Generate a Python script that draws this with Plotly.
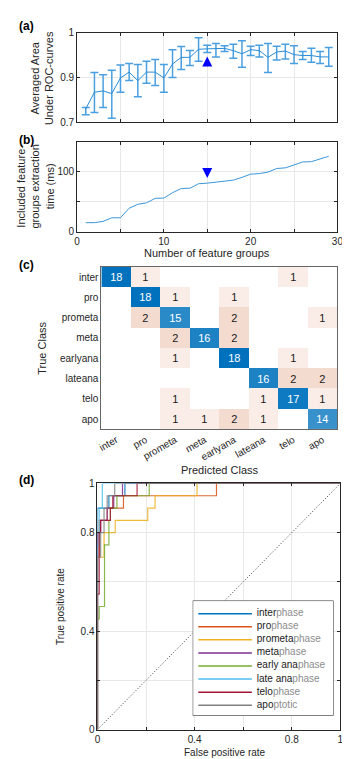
import numpy as np
import plotly.graph_objects as go

# ---------------- data ----------------
n_groups = list(range(1, 30))
auc_mean = [0.830, 0.867, 0.870, 0.864, 0.899, 0.912, 0.893, 0.912, 0.912, 0.899,
            0.930, 0.945, 0.945, 0.963, 0.964, 0.964, 0.965, 0.960, 0.953, 0.962,
            0.960, 0.945, 0.957, 0.959, 0.951, 0.949, 0.949, 0.946, 0.946]
auc_upper = [0.833, 0.911, 0.906, 0.916, 0.928, 0.931, 0.929, 0.936, 0.940, 0.929,
             0.962, 0.969, 0.960, 0.989, 0.972, 0.976, 0.971, 0.974, 0.982, 0.970,
             0.972, 0.976, 0.970, 0.974, 0.971, 0.958, 0.965, 0.958, 0.967]
auc_lower = [0.817, 0.822, 0.833, 0.809, 0.867, 0.893, 0.857, 0.887, 0.882, 0.867,
             0.900, 0.918, 0.927, 0.936, 0.956, 0.946, 0.958, 0.943, 0.923, 0.949,
             0.946, 0.911, 0.939, 0.941, 0.931, 0.940, 0.934, 0.931, 0.925]
time_ms = [14.8, 14.8, 17, 23, 23, 39, 45.6, 48, 55.5, 56,
           65, 72, 72.5, 80, 81, 82.4, 84, 86, 90.7, 96,
           97, 99.5, 105.5, 106.6, 111.5, 116.5, 117, 122, 126]
chosen_n = 15
auc_arrow_y = 0.947
time_arrow_y = 89.6

classes = ["inter", "pro", "prometa", "meta", "earlyana", "lateana", "telo", "apo"]
conf = [
    [18, 1, 0, 0, 0, 0, 1, 0],
    [0, 18, 1, 0, 1, 0, 0, 0],
    [0, 2, 15, 0, 2, 0, 0, 1],
    [0, 0, 2, 16, 2, 0, 0, 0],
    [0, 0, 1, 0, 18, 0, 1, 0],
    [0, 0, 0, 0, 0, 16, 2, 2],
    [0, 0, 1, 0, 0, 1, 17, 1],
    [0, 0, 1, 1, 2, 1, 0, 14],
]

roc_prefix = ["inter", "pro", "prometa", "meta", "early ana", "late ana", "telo", "apo"]
roc_suffix = ["phase", "phase", "phase", "phase", "phase", "phase", "phase", "ptotic"]
roc_colors = ["#0072BD", "#D95319", "#EDB120", "#7E2F8E", "#77AC30", "#4DBEEE", "#A2142F", "#808080"]
roc_fpr = [
    [0, 0, 0.047, 0.047, 0.113, 0.113, 1],
    [0, 0, 0.007, 0.007, 0.04, 0.04, 0.107, 0.107, 0.49, 0.49, 1],
    [0, 0, 0.027, 0.027, 0.073, 0.073, 0.207, 0.207, 0.237, 0.237, 0.41, 0.41, 1],
    [0, 0, 0.013, 0.013, 0.04, 0.04, 0.067, 0.067, 0.103, 0.103, 1],
    [0, 0, 0.007, 0.007, 0.029, 0.029, 0.047, 0.047, 0.053, 0.053, 0.08, 0.08, 0.213, 0.213, 1],
    [0, 0, 0.007, 0.007, 0.02, 0.02, 1],
    [0, 0, 0.007, 0.007, 0.013, 0.013, 0.053, 0.053, 0.063, 0.063, 0.163, 0.163, 1],
    [0, 0, 0.013, 0.013, 0.027, 0.027, 0.04, 0.04, 0.071, 0.071, 1],
]
roc_tpr = [
    [0, 0.9, 0.9, 0.95, 0.95, 1, 1],
    [0, 0.7, 0.7, 0.85, 0.85, 0.9, 0.9, 0.95, 0.95, 1, 1],
    [0, 0.7, 0.7, 0.8, 0.8, 0.85, 0.85, 0.9, 0.9, 0.95, 0.95, 1, 1],
    [0, 0.8, 0.8, 0.85, 0.85, 0.9, 0.9, 0.95, 0.95, 1, 1],
    [0, 0.45, 0.45, 0.5, 0.5, 0.75, 0.75, 0.85, 0.85, 0.9, 0.9, 0.95, 0.95, 1, 1],
    [0, 0.75, 0.75, 0.9, 0.9, 1, 1],
    [0, 0.55, 0.55, 0.8, 0.8, 0.85, 0.85, 0.9, 0.9, 0.95, 0.95, 1, 1],
    [0, 0.7, 0.7, 0.8, 0.8, 0.9, 0.9, 0.95, 0.95, 1, 1],
]
chance = [0, 1]

# ---------------- style ----------------
FONT = "Liberation Sans, Arial, sans-serif"
INK = "#262626"
GRID = "#e8e8e8"
W, H = 350, 759


def px_x(x):
    return x / W


def px_y(y):
    return 1 - y / H


fig = go.Figure()

# --- (a) averaged AUC with error bars ---
mean = np.array(auc_mean)
fig.add_trace(go.Scatter(
    x=n_groups, y=auc_mean, mode="lines",
    line=dict(color="#2b8cd6", width=1),
    error_y=dict(type="data", symmetric=False,
                 array=np.array(auc_upper) - mean,
                 arrayminus=mean - np.array(auc_lower),
                 color="#4a9fe0", thickness=1.5, width=4),
    xaxis="x", yaxis="y", showlegend=False, hoverinfo="skip"))
fig.add_trace(go.Scatter(
    x=[chosen_n], y=[auc_arrow_y], mode="markers",
    marker=dict(symbol="arrow-up", size=10, color="#0000ff"),
    xaxis="x", yaxis="y", showlegend=False, hoverinfo="skip"))

# --- (b) extraction time ---
fig.add_trace(go.Scatter(
    x=n_groups, y=time_ms, mode="lines",
    line=dict(color="#3a96db", width=1),
    xaxis="x2", yaxis="y2", showlegend=False, hoverinfo="skip"))
fig.add_trace(go.Scatter(
    x=[chosen_n], y=[time_arrow_y], mode="markers",
    marker=dict(symbol="arrow-down", size=10, color="#0000ff"),
    xaxis="x2", yaxis="y2", showlegend=False, hoverinfo="skip"))

# --- (c) confusion matrix ---
cm = np.array(conf, dtype=float)
diag_mask = np.eye(len(classes), dtype=bool)
z_diag = np.where(diag_mask, cm, np.nan)
z_off = np.where(~diag_mask & (cm > 0), cm, np.nan)
txt_diag = [[str(int(v)) if not np.isnan(v) else "" for v in row] for row in z_diag]
txt_off = [[str(int(v)) if not np.isnan(v) else "" for v in row] for row in z_off]

fig.add_trace(go.Heatmap(
    z=z_off, x=classes, y=classes, zmin=0, zmax=2,
    colorscale=[[0, "#ffffff"], [1, "#f4dbcf"]], showscale=False,
    text=txt_off, texttemplate="%{text}", textfont=dict(size=11, color="#1a1a1a", family=FONT),
    xaxis="x3", yaxis="y3", hoverinfo="skip"))
fig.add_trace(go.Heatmap(
    z=z_diag, x=classes, y=classes, zmin=0, zmax=18,
    colorscale=[[0, "#ffffff"], [1, "#0072BD"]], showscale=False,
    text=txt_diag, texttemplate="%{text}", textfont=dict(size=11, color="white", family=FONT),
    xaxis="x3", yaxis="y3", hoverinfo="skip"))

# --- (d) ROC curves ---
fig.add_trace(go.Scatter(
    x=chance, y=chance, mode="lines",
    line=dict(color="#333333", width=1, dash="1px,2px"),
    xaxis="x4", yaxis="y4", showlegend=False, hoverinfo="skip"))
for fpr, tpr, col in zip(roc_fpr, roc_tpr, roc_colors):
    fig.add_trace(go.Scatter(
        x=fpr, y=tpr, mode="lines", opacity=0.85,
        line=dict(color=col, width=1.2),
        xaxis="x4", yaxis="y4", showlegend=False, hoverinfo="skip"))

# custom legend box drawn in its own small axes
idx = list(range(len(roc_prefix)))
for i, col in zip(idx, roc_colors):
    fig.add_trace(go.Scatter(
        x=[0.04, 0.42], y=[i, i], mode="lines",
        line=dict(color=col, width=1.5),
        xaxis="x5", yaxis="y5", showlegend=False, hoverinfo="skip"))
fig.add_trace(go.Scatter(
    x=[0.455] * len(idx), y=idx, mode="text",
    text=[f"{p}<span style='color:#8c8c8c'>{s}</span>" for p, s in zip(roc_prefix, roc_suffix)],
    textposition="middle right",
    textfont=dict(size=10, color="#1a1a1a", family=FONT),
    xaxis="x5", yaxis="y5", showlegend=False, hoverinfo="skip"))

# ---------------- axes ----------------
common = dict(showline=True, linecolor=INK, linewidth=1, mirror="allticks",
              ticks="inside", ticklen=3, tickcolor=INK, gridcolor=GRID,
              zeroline=False, tickfont=dict(size=10, color=INK, family=FONT))

xa = [67, 335]
fig.update_layout(
    xaxis=dict(domain=[px_x(xa[0]), px_x(xa[1])], range=[0, 30], anchor="y",
               tickvals=list(range(0, 31, 5)), showticklabels=False, showgrid=True, **common),
    yaxis=dict(domain=[px_y(110), px_y(19)], range=[0.8, 1.0], anchor="x",
               tickvals=[0.8, 0.9, 1.0], ticktext=["0.7", "0.9", "1"], **common),
    xaxis2=dict(domain=[px_x(xa[0]), px_x(xa[1])], range=[0, 30], anchor="y2",
                tickvals=list(range(0, 31, 5)), ticktext=["0", "", "10", "", "20", "", "30"], **common),
    yaxis2=dict(domain=[px_y(221), px_y(130)], range=[0, 150], anchor="x2",
                tickvals=[0, 50, 100, 150], ticktext=["0", "", "100", ""], **common),
    xaxis3=dict(domain=[px_x(92), px_x(335)], anchor="y3", range=[-0.5, 7.5],
                showline=True, linecolor="#666666", mirror=True, ticks="", showgrid=False,
                zeroline=False, tickangle=-30, tickfont=dict(size=10, color=INK, family=FONT)),
    yaxis3=dict(domain=[px_y(422), px_y(257)], anchor="x3", range=[7.5, -0.5],
                showline=True, linecolor="#666666", mirror=True, ticks="", showgrid=False,
                zeroline=False, tickfont=dict(size=10, color=INK, family=FONT)),
    xaxis4=dict(domain=[px_x(88), px_x(338)], range=[0, 1], anchor="y4",
                tickvals=[0, 0.2, 0.4, 0.6, 0.8, 1], ticktext=["0", "", "0.4", "", "0.8", "1"], **common),
    yaxis4=dict(domain=[px_y(727), px_y(477)], range=[0, 1], anchor="x4",
                tickvals=[0, 0.2, 0.4, 0.6, 0.8, 1], ticktext=["0", "", "0.4", "", "0.8", "1"], **common),
    xaxis5=dict(domain=[px_x(186), px_x(331)], range=[0, 1], anchor="y5",
                visible=False),
    yaxis5=dict(domain=[px_y(713), px_y(596)], range=[7.8, -1], anchor="x5",
                visible=False),
)

# legend frame (white box sits above panel d, below legend entries)
fig.add_shape(type="rect", xref="x5", yref="y5", x0=0, x1=1, y0=-1, y1=7.8,
              layer="below", fillcolor="white", line=dict(color=INK, width=1))

# ---------------- labels ----------------
def note(text, x, y, size=11, angle=0, bold=False, color=INK):
    fig.add_annotation(text=f"<b>{text}</b>" if bold else text,
                       x=px_x(x), y=px_y(y), xref="paper", yref="paper",
                       showarrow=False, textangle=angle, xanchor="center", yanchor="middle",
                       font=dict(size=size, color=color, family=FONT))


note("(a)", 15, 12, size=12, bold=True, color="#000000")
note("(b)", 15, 128, size=12, bold=True, color="#000000")
note("(c)", 15, 255, size=12, bold=True, color="#000000")
note("(d)", 15, 473, size=12, bold=True, color="#000000")
note("Averaged Area<br>Under ROC-curves", 31, 65, angle=-90)
note("Included feature-<br>groups extraction<br>time (ms)", 24, 175, angle=-90)
note("Number of feature groups", 201, 243)
note("True Class", 31, 340, angle=-90)
note("Predicted Class", 214, 463)
note("True positive rate", 50, 602, size=10, angle=-90)
note("False positive rate", 219, 750, size=10)

fig.update_layout(
    width=W, height=H,
    margin=dict(l=0, r=0, t=0, b=0),
    paper_bgcolor="white", plot_bgcolor="white",
    font=dict(family=FONT, color=INK),
    showlegend=False,
)

fig.write_html("out.html")
